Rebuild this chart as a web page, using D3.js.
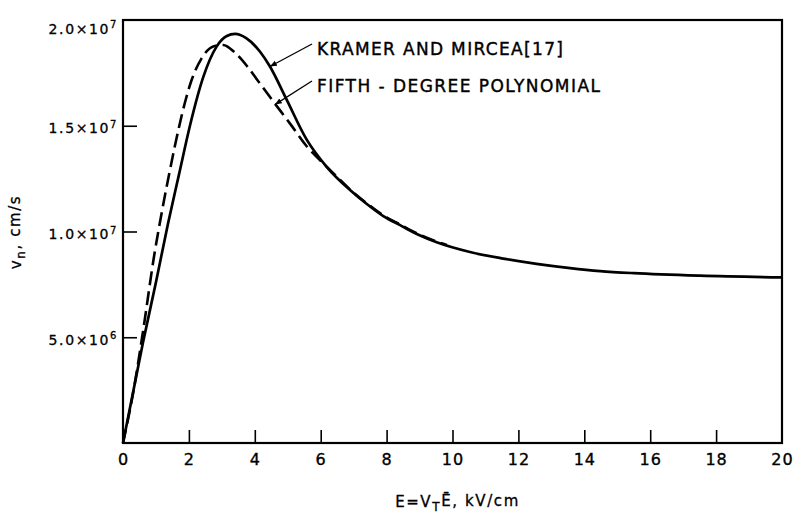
<!DOCTYPE html>
<html>
<head>
<meta charset="utf-8">
<script src="https://cdn.jsdelivr.net/npm/d3@7"></script>
<style>
  body { margin: 0; background: #fff; }
  text { font-family: "DejaVu Sans", sans-serif; fill: #000; }
</style>
</head>
<body>
<div id="chart"></div>
<script>
// Kramer and Mircea curve (solid)
var kramerE = [0, 0.6, 1.0, 1.37, 1.7, 2.03, 2.44, 2.84, 3.15, 3.40, 3.75, 4.16, 4.46, 4.97, 5.58, 6.18, 6.89, 7.4, 7.9, 8.41, 9.0, 9.52, 10.53, 11.54, 12.55, 13.57, 14.48, 15.5, 17.51, 20];
var kramerV = [0, 4.7e6, 7.6e6, 1.04e7, 1.27e7, 1.499e7, 1.732e7, 1.874e7, 1.924e7, 1.934e7, 1.913e7, 1.85e7, 1.78e7, 1.622e7, 1.433e7, 1.306e7, 1.196e7, 1.13e7, 1.073e7, 1.03e7, 9.82e6, 9.49e6, 9.03e6, 8.72e6, 8.47e6, 8.27e6, 8.13e6, 8.03e6, 7.91e6, 7.83e6];

// fifth-degree polynomial fit (dashed)
var polyE = [0, 0.3, 0.6, 0.95, 1.2, 1.45, 1.68, 1.88, 2.08, 2.39, 2.74, 3.04, 3.40, 3.75, 4.06, 4.56, 5.07, 5.58, 6.08, 6.5, 6.89, 7.4, 7.9, 8.41, 9.0, 9.52, 9.83];
var polyV = [0, 2.3e6, 5.2e6, 8.9e6, 1.11e7, 1.31e7, 1.48e7, 1.61e7, 1.715e7, 1.82e7, 1.875e7, 1.882e7, 1.845e7, 1.785e7, 1.72e7, 1.615e7, 1.51e7, 1.402e7, 1.322e7, 1.258e7, 1.199e7, 1.133e7, 1.076e7, 1.033e7, 9.85e6, 9.52e6, 9.36e6];

var xTicks = [0, 2, 4, 6, 8, 10, 12, 14, 16, 18, 20];
var yTicks = [5e6, 1e7, 1.5e7, 2e7];
var yTickMain = ["5.0\u00d710", "1.0\u00d710", "1.5\u00d710", "2.0\u00d710"];
var yTickExp = ["6", "7", "7", "7"];

var labels = ["KRAMER AND MIRCEA[17]", "FIFTH - DEGREE POLYNOMIAL"];
var labelE = [4.46, 4.61];
var labelV = [1.78e7, 1.60e7];

createchart();

function createchart() {
  var width = 799;
  var height = 513;
  var left = 123, right = 782, top = 20, bottom = 443;

  var svg = d3.select("#chart").append("svg")
    .attr("width", width)
    .attr("height", height);

  var x = d3.scaleLinear().domain([0, 20]).range([left, right]);
  var y = d3.scaleLinear().domain([0, 2e7]).range([bottom, top]);

  svg.append("defs").append("marker")
    .attr("id", "arrow")
    .attr("viewBox", "0 0 10 10")
    .attr("refX", 10).attr("refY", 5)
    .attr("markerWidth", 7).attr("markerHeight", 7)
    .attr("markerUnits", "userSpaceOnUse")
    .attr("orient", "auto")
    .append("path")
    .attr("d", "M0,1 L10,5 L0,9 Z")
    .attr("fill", "#000");

  // x axis
  var xAxis = svg.append("g")
    .attr("transform", "translate(0," + bottom + ")")
    .call(d3.axisBottom(x).tickValues(xTicks).tickSize(-13).tickPadding(11).tickFormat(d3.format("d")));
  xAxis.select(".domain").remove();
  xAxis.selectAll(".tick line").attr("stroke", "#000").attr("stroke-width", 1.6)
    .filter(function (d) { return d === 0 || d === 20; }).remove();
  xAxis.selectAll(".tick text").attr("font-size", 16).attr("fill", "#000")
    .attr("font-family", "DejaVu Sans").attr("letter-spacing", 1)
    .attr("stroke", "#000").attr("stroke-width", 0.35);

  // y axis
  var yAxis = svg.append("g")
    .attr("transform", "translate(" + left + ",0)")
    .call(d3.axisLeft(y).tickValues(yTicks).tickSize(-14).tickPadding(5));
  yAxis.select(".domain").remove();
  yAxis.selectAll(".tick line").attr("stroke", "#000").attr("stroke-width", 1.6)
    .filter(function (d) { return d === 2e7; }).remove();
  yAxis.selectAll(".tick text")
    .attr("font-size", 14).attr("fill", "#000").attr("font-family", "DejaVu Sans")
    .attr("letter-spacing", 1.6)
    .attr("stroke", "#000").attr("stroke-width", 0.3)
    .attr("dy", function (d) { return d === 2e7 ? "0.95em" : "0.5em"; })
    .text(null)
    .each(function (d, i) {
      var t = d3.select(this);
      t.append("tspan").text(yTickMain[i]);
      t.append("tspan").attr("dy", "-0.55em").attr("font-size", 10).text(yTickExp[i]);
    });

  // frame
  svg.append("rect")
    .attr("x", left).attr("y", top)
    .attr("width", right - left).attr("height", bottom - top)
    .attr("fill", "none").attr("stroke", "#000").attr("stroke-width", 2.2);

  var line = d3.line()
    .x(function (d) { return x(d[0]); })
    .y(function (d) { return y(d[1]); })
    .curve(d3.curveMonotoneX);

  svg.append("path")
    .attr("d", line(d3.zip(polyE, polyV)))
    .attr("fill", "none").attr("stroke", "#000")
    .attr("stroke-width", 2.6).attr("stroke-dasharray", "14,6");

  svg.append("path")
    .attr("d", line(d3.zip(kramerE, kramerV)))
    .attr("fill", "none").attr("stroke", "#000")
    .attr("stroke-width", 2.7);

  // annotations with leaders
  var textW = [246, 283];
  labels.forEach(function (s, i) {
    var tx = x(labelE[i]), ty = y(labelV[i]);
    var lx = 317, ly = i === 0 ? 49 : 86;
    svg.append("line")
      .attr("x1", lx - 5).attr("y1", ly - 5)
      .attr("x2", tx).attr("y2", ty)
      .attr("stroke", "#000").attr("stroke-width", 1.3)
      .attr("marker-end", "url(#arrow)");
    svg.append("text")
      .attr("x", lx).attr("y", ly + 6)
      .attr("font-size", 17)
      .attr("stroke", "#000").attr("stroke-width", 0.4)
      .attr("textLength", textW[i]).attr("lengthAdjust", "spacing")
      .text(s);
  });

  // axis titles
  var xt = svg.append("text")
    .attr("x", (left + right) / 2 + 5).attr("y", 507)
    .attr("text-anchor", "middle").attr("font-size", 15).attr("letter-spacing", 1.6)
    .attr("stroke", "#000").attr("stroke-width", 0.3);
  xt.append("tspan").text("E=V");
  xt.append("tspan").attr("dy", "0.35em").attr("font-size", 12).text("T");
  xt.append("tspan").attr("dy", "-0.35em").text("E\u0304, kV/cm");

  var yt = svg.append("text")
    .attr("transform", "translate(21,232) rotate(-90)")
    .attr("text-anchor", "middle").attr("font-size", 15).attr("letter-spacing", 1.6)
    .attr("stroke", "#000").attr("stroke-width", 0.3);
  yt.append("tspan").text("v");
  yt.append("tspan").attr("dy", "0.35em").attr("font-size", 12).text("n");
  yt.append("tspan").attr("dy", "-0.35em").text(", cm/s");
}
</script>
</body>
</html>
